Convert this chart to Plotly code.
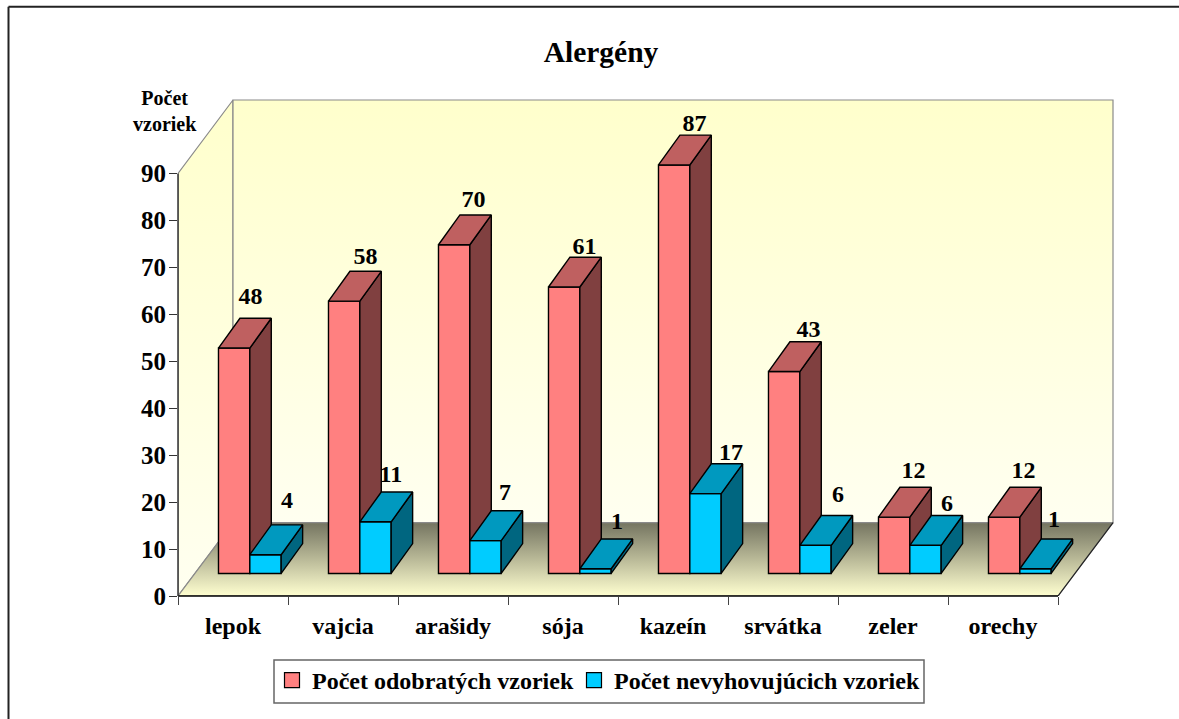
import plotly.graph_objects as go

title = "Alergény"
categories = ["lepok", "vajcia", "arašidy", "sója", "kazeín", "srvátka", "zeler", "orechy"]
odobrate = [48, 58, 70, 61, 87, 43, 12, 12]
nevyhovujuce = [4, 11, 7, 1, 17, 6, 6, 1]
y_ticks = [0, 10, 20, 30, 40, 50, 60, 70, 80, 90]
series_names = ["Počet odobratých vzoriek", "Počet nevyhovujúcich vzoriek"]

# ---- style / geometry (separate from the data) ----
W, H = 1179, 719
CAT_PX = 110.0          # pixels per category
UNIT_PX = 4.694         # pixels per value unit
L, B = 178, 596
XMAX, YTOP = 8.6, 115   # axes extend past the front plane to hold the 3D walls
R = L + XMAX * CAT_PX
T = B - YTOP * UNIT_PX
FONT = "Liberation Serif"
BAR_W = 0.285
RED_LEFT = 0.368
BLUE_LEFT = RED_LEFT + BAR_W
BASE = 4.8
DX, DY = 0.195, 6.35
WALL_DX, WALL_DY = 0.5, 15.63
NCAT = len(categories)
YMAX = 90
EDGE = "#8a8a8a"
STROKE = 1.4
# hand placement of the value labels relative to the bar's back top edge (px)
RED_NUDGE_X = [-5, 0, -2, -1, -1, 3, -2, -2]
RED_NUDGE_Y = [20.5, 13.5, 13.5, 9.5, 10.5, 10.5, 15.5, 15.5]
BLUE_NUDGE_X = [0, -6, -2, 0, 4, 1, 0, -3]
BLUE_NUDGE_Y = [22.5, 15.5, 16.5, 15.5, 9.5, 19.5, 10.5, 17.5]


def px(v):
    return (v - L) / (R - L)


def py(v):
    return (B - v) / (B - T)


def wall(xs, ys, top, bottom):
    return go.Scatter(x=xs, y=ys, mode="lines", fill="toself",
                      fillgradient=dict(type="vertical", colorscale=[[0, bottom], [1, top]]),
                      line=dict(color=EDGE, width=1.2), showlegend=False, hoverinfo="skip")


def faces(vals, left):
    sx, sy, tx, ty = [], [], [], []
    for i, v in enumerate(vals):
        l = i + left
        r = l + BAR_W
        sx += [r, r + DX, r + DX, r, r, None]
        sy += [BASE, BASE + DY, BASE + v + DY, BASE + v, BASE, None]
        tx += [l, l + DX, r + DX, r, l, None]
        ty += [BASE + v, BASE + v + DY, BASE + v + DY, BASE + v, BASE + v, None]
    return (sx, sy), (tx, ty)


def box_traces(vals, left, front, top, side, ax):
    (sx, sy), (tx, ty) = faces(vals, left)
    xa, ya = ax
    out = [go.Bar(x=[i + left + BAR_W / 2 for i in range(NCAT)], y=vals, base=BASE, width=BAR_W,
                  marker=dict(color=front, line=dict(color="black", width=STROKE)),
                  showlegend=False, hoverinfo="y", xaxis=xa, yaxis=ya)]
    for (x, y, c) in ((sx, sy, side), (tx, ty, top)):
        out.append(go.Scatter(x=x, y=y, mode="lines", fill="toself", fillcolor=c,
                              line=dict(color="black", width=STROKE),
                              showlegend=False, hoverinfo="skip", xaxis=xa, yaxis=ya))
    return out


def label_trace(vals, left, nx, ny, ax):
    return go.Scatter(x=[i + left + BAR_W / 2 + DX + nx[i] / CAT_PX for i in range(NCAT)],
                      y=[BASE + v + DY + ny[i] / UNIT_PX for i, v in enumerate(vals)],
                      mode="text", text=[str(v) for v in vals], textposition="middle center",
                      textfont=dict(family=FONT, size=24, color="black", weight="bold"),
                      showlegend=False, hoverinfo="skip", xaxis=ax[0], yaxis=ax[1])


fig = go.Figure()
# walls and floor
fig.add_trace(wall([0, WALL_DX, WALL_DX, 0, 0], [0, WALL_DY, YMAX + WALL_DY, YMAX, 0], "#FFFFCC", "#FFFFF0"))
fig.add_trace(wall([WALL_DX, NCAT + WALL_DX, NCAT + WALL_DX, WALL_DX, WALL_DX],
                   [WALL_DY, WALL_DY, YMAX + WALL_DY, YMAX + WALL_DY, WALL_DY], "#FFFFCC", "#FFFFF0"))
fig.add_trace(wall([0, NCAT, NCAT + WALL_DX, WALL_DX, 0], [0, 0, WALL_DY, WALL_DY, 0], "#747460", "#FFFFD0"))
fig.add_trace(go.Scatter(x=[NCAT, NCAT + WALL_DX], y=[0, WALL_DY], mode="lines",
                         line=dict(color="#222", width=1.2), showlegend=False, hoverinfo="skip"))

for t in box_traces(odobrate, RED_LEFT, "#FF8080", "#BF6060", "#804040", ("x2", "y2")):
    fig.add_trace(t)
for t in box_traces(nevyhovujuce, BLUE_LEFT, "#00CCFF", "#0099BF", "#006680", ("x3", "y3")):
    fig.add_trace(t)
fig.add_trace(label_trace(odobrate, RED_LEFT, RED_NUDGE_X, RED_NUDGE_Y, ("x3", "y3")))
fig.add_trace(label_trace(nevyhovujuce, BLUE_LEFT, BLUE_NUDGE_X, BLUE_NUDGE_Y, ("x3", "y3")))

# legend entries, one small legend each so they can sit exactly where the original has them
for name, color, lg in zip(series_names, ("#FF8080", "#00CCFF"), ("legend", "legend2")):
    fig.add_trace(go.Scatter(x=[None], y=[None], mode="markers", name=name, legend=lg, showlegend=True,
                             marker=dict(symbol="square", size=15, color=color,
                                         line=dict(color="black", width=1.2))))

hx = dict(visible=False, range=[0, XMAX], fixedrange=True)
hy = dict(visible=False, range=[0, YTOP], fixedrange=True)
lg_style = dict(orientation="h", xanchor="left", yanchor="top", bgcolor="rgba(0,0,0,0)", borderwidth=0,
                font=dict(family=FONT, size=24, weight="bold"))
fig.update_layout(
    width=W, height=H, autosize=False,
    margin=dict(l=L, r=W - R, t=T, b=H - B, pad=0),
    paper_bgcolor="white", plot_bgcolor="rgba(0,0,0,0)",
    font=dict(family=FONT, color="black"),
    title=dict(text="<b>" + title + "</b>", x=601 / W, y=1 - 52 / H, xanchor="center", yanchor="middle",
               font=dict(family=FONT, size=29.5, color="black")),
    xaxis=dict(range=[0, XMAX], tickmode="array", tickvals=[i + 0.5 for i in range(NCAT)],
               ticktext=["<b>" + c + "</b>" for c in categories], ticks="", showgrid=False, zeroline=False,
               showline=False, tickfont=dict(family=FONT, size=24), ticklabelstandoff=13,
               minor=dict(tickmode="array", tickvals=list(range(NCAT + 1)), ticks="outside", ticklen=8,
                          tickcolor="#444", tickwidth=1, showgrid=False)),
    yaxis=dict(range=[0, YTOP], tickmode="array", tickvals=y_ticks,
               ticktext=["<b>%d</b>" % v for v in y_ticks], ticks="outside", ticklen=8, tickcolor="#333",
               tickwidth=1, showgrid=False, zeroline=False, showline=False,
               tickfont=dict(family=FONT, size=25), ticklabelstandoff=-2),
    xaxis2=dict(overlaying="x", **hx), yaxis2=dict(overlaying="y", **hy),
    xaxis3=dict(overlaying="x", **hx), yaxis3=dict(overlaying="y", **hy),
    legend=dict(x=px(272), y=py(658), **lg_style),
    legend2=dict(x=px(574), y=py(658), **lg_style),
    showlegend=True,
    annotations=[dict(text="<b>Počet<br>vzoriek</b>", x=px(165), y=py(111.5), xref="paper", yref="paper",
                      xanchor="center", yanchor="middle", showarrow=False, font=dict(family=FONT, size=20))],
)
# front-plane axis lines, legend box and outer frame
ln = dict(type="line", xref="paper", yref="paper")
fig.add_shape(x0=px(L), x1=px(L + NCAT * CAT_PX), y0=py(B), y1=py(B), line=dict(color="black", width=1.5), **ln)
fig.add_shape(x0=px(L), x1=px(L), y0=py(B), y1=py(B - YMAX * UNIT_PX), line=dict(color="#333", width=1.5), **ln)
fig.add_shape(type="rect", xref="paper", yref="paper", x0=px(274), x1=px(924), y0=py(660), y1=py(703),
              line=dict(color="#666", width=1.5), fillcolor="rgba(0,0,0,0)")
fr = dict(color="#222", width=2)
fig.add_shape(x0=px(8.5), x1=px(8.5), y0=py(7), y1=py(719), line=fr, **ln)
fig.add_shape(x0=px(8.5), x1=px(1179), y0=py(7), y1=py(7), line=fr, **ln)

fig.write_html("out.html", config={"displayModeBar": False},
               post_script="document.body.style.margin='0';document.body.style.overflow='hidden';")
